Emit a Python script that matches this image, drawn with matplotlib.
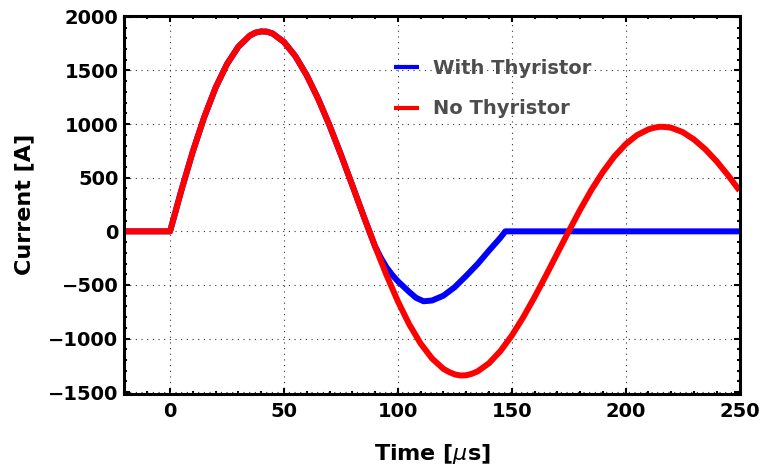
import matplotlib
matplotlib.use("Agg")
import matplotlib.pyplot as plt
from matplotlib.ticker import MultipleLocator

# time axis in microseconds, current in amperes
t_red = [-20, 0, 5, 10, 15, 20, 25, 30, 35, 37.5, 40, 42.5, 45, 50, 55, 60, 65, 70, 75, 80, 85,
         90, 95, 100, 105, 110, 115, 120, 122.5, 125, 127.5, 130, 132.5, 135, 140, 145, 150,
         155, 160, 165, 170, 175, 180, 185, 190, 195, 200, 205, 210, 212.5, 215, 217.5, 220,
         225, 230, 235, 240, 245, 250]
i_red = [0, 0, 385, 745, 1065, 1340, 1560, 1722, 1825, 1853, 1864, 1862, 1845, 1766, 1634, 1455,
         1237, 988, 716, 430, 141, -140, -406, -652, -867, -1046, -1185, -1282, -1312, -1334,
         -1344, -1342, -1328, -1306, -1230, -1117, -973, -803, -614, -413, -206, 0, 200, 387,
         553, 697, 812, 897, 951, 966, 975, 973, 966, 926, 857, 765, 652, 522, 380]

t_blue = [-20, 0, 5, 10, 15, 20, 25, 30, 35, 37.5, 40, 42.5, 45, 50, 55, 60, 65, 70, 75, 80, 85,
          90, 92.5, 95, 97.5, 100, 105, 108, 111.3, 115, 120, 125, 130, 135, 140, 145, 147.2, 250]
i_blue = [0, 0, 385, 745, 1065, 1340, 1560, 1722, 1825, 1853, 1864, 1862, 1845, 1766, 1634, 1455,
          1237, 988, 716, 430, 141, -140, -245, -335, -405, -465, -565, -620, -652, -645, -600,
          -520, -415, -305, -180, -60, 0, 0]

labels = ["With Thyristor", "No Thyristor"]
xticks = [0, 50, 100, 150, 200, 250]
yticks = [-1500, -1000, -500, 0, 500, 1000, 1500, 2000]

plt.rcParams['font.family'] = ['DejaVu Sans']
plt.rcParams['mathtext.fontset'] = 'dejavusans'

fig = plt.figure(figsize=(7.62, 4.70), dpi=100)
ax = fig.add_axes([124.5 / 762, 1 - 393.5 / 470, 615 / 762, 377.5 / 470])

ax.plot(t_blue, i_blue, color='#0000ff', lw=4.3, label=labels[0],
        solid_capstyle='butt', solid_joinstyle='round')
ax.plot(t_red, i_red, color='#ff0000', lw=4.3, label=labels[1],
        solid_capstyle='butt', solid_joinstyle='round')

ax.set_xlim(-20, 250)
ax.set_ylim(-1512, 2008)
ax.set_xticks(xticks)
ax.set_yticks(yticks)
ax.xaxis.set_minor_locator(MultipleLocator(10))
ax.yaxis.set_minor_locator(MultipleLocator(100))

ax.grid(True, which='major', color='#333333', lw=0.8, linestyle=(0, (1, 4.1)))
for s in ax.spines.values():
    s.set_linewidth(2.2)
ax.tick_params(which='both', direction='in', top=True, right=True, width=1.5)
ax.tick_params(which='major', length=4.5)
ax.tick_params(which='minor', length=2.5)
ax.tick_params(axis='y', which='major', pad=4.3)
ax.tick_params(axis='x', which='major', pad=6)
for lab in ax.get_xticklabels() + ax.get_yticklabels():
    lab.set_fontsize(14)
    lab.set_fontweight('bold')

ax.set_xlabel(r'Time [$\mu$s]', fontsize=16, fontweight='bold', labelpad=15)
ax.set_ylabel('Current [A]', fontsize=16, fontweight='bold', labelpad=10)

leg = ax.legend(loc='upper left', bbox_to_anchor=(0.438, 0.886), frameon=False,
                borderpad=0, borderaxespad=0, handlelength=1.3, handletextpad=0.7,
                labelspacing=1.1, prop={'size': 14, 'weight': 'bold'})
for h in leg.legend_handles:
    h.set_linewidth(3)
for txt in leg.get_texts():
    txt.set_color('#4d4d4d')

fig.savefig('out.png', dpi=100)
